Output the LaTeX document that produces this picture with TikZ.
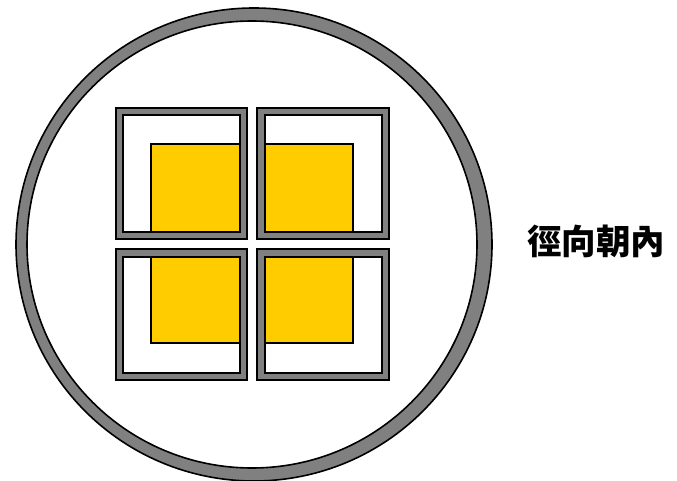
\documentclass[tikz,border=0pt]{standalone}
\usepackage{fontspec}
\newfontfamily\cjk{Noto Sans CJK TC}
\definecolor{ringgray}{HTML}{808080}
\definecolor{padyellow}{HTML}{FFCC00}
\tikzset{
  outline/.style={draw=black, line width=1.6pt},
  frameouter/.style={fill=ringgray, draw=black, line width=1.6pt},
  frameinner/.style={fill=white, draw=black, line width=1.6pt},
  pad/.style={fill=padyellow, draw=black, line width=1.6pt},
  label/.style={font=\cjk\bfseries\fontsize{34.5}{38}\selectfont, inner sep=0pt}
}
\begin{document}
\begin{tikzpicture}[x=1pt, y=-1pt]
\useasboundingbox (0,0) rectangle (677,481);
% ring
\fill[ringgray, even odd rule] (254,244.5) ellipse [x radius=238pt, y radius=236.5pt]
  (252,244.5) ellipse [x radius=225pt, y radius=223.5pt];
\draw[outline] (254,244.5) ellipse [x radius=238pt, y radius=236.5pt];
\draw[outline] (252,244.5) ellipse [x radius=225pt, y radius=223.5pt];
% frames
\draw[frameouter] (116,108) rectangle (247,239);
\draw[frameinner] (123,115) rectangle (240,232);
\draw[frameouter] (257,108) rectangle (389,239);
\draw[frameinner] (265,115) rectangle (382,232);
\draw[frameouter] (116,249) rectangle (247,380);
\draw[frameinner] (123,257) rectangle (240,373);
\draw[frameouter] (257,249) rectangle (389,380);
\draw[frameinner] (265,257) rectangle (382,373);
% pads
\draw[pad] (151,144) rectangle (240,232);
\draw[pad] (265,144) rectangle (353,232);
\draw[pad] (151,257) rectangle (240,343);
\draw[pad] (265,257) rectangle (353,343);
% label
\node[label] (lbl) at (596,241) {徑向朝內};
\end{tikzpicture}
\end{document}
